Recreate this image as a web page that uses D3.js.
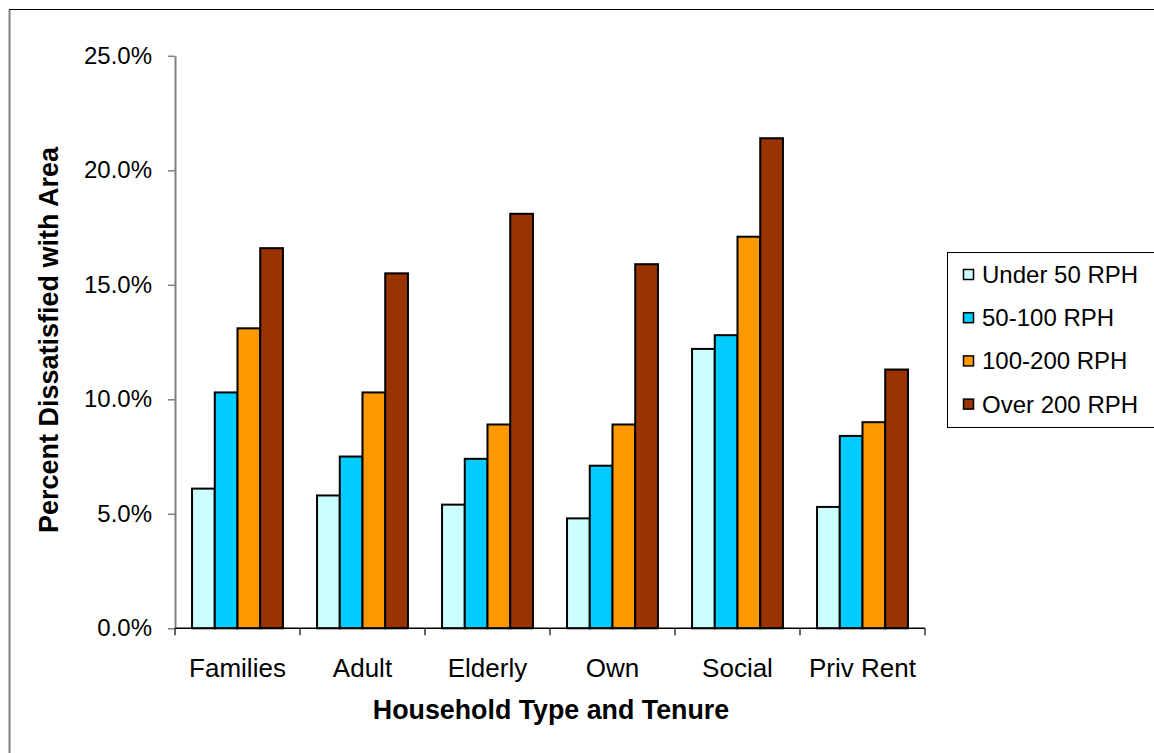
<!DOCTYPE html>
<html>
<head>
<meta charset="utf-8">
<script src="https://cdn.jsdelivr.net/npm/d3@7"></script>
<style>
  html, body { margin: 0; padding: 0; background: #fff; }
  svg { display: block; font-family: "Liberation Sans", Arial, sans-serif; }
</style>
</head>
<body>
<svg id="chart" width="1154" height="753"></svg>
<script>
// Household groups along the x axis
const categories = ["Families", "Adult", "Elderly", "Own", "Social", "Priv Rent"];
// Density bands (rooms per hectare)
const seriesNames = ["Under 50 RPH", "50-100 RPH", "100-200 RPH", "Over 200 RPH"];
const seriesColors = ["#CCFFFF", "#00CCFF", "#FF9900", "#993300"];
// Percent dissatisfied with area, one array per band
const under50 = [6.1, 5.8, 5.4, 4.8, 12.2, 5.3];
const from50to100 = [10.3, 7.5, 7.4, 7.1, 12.8, 8.4];
const from100to200 = [13.1, 10.3, 8.9, 8.9, 17.1, 9.0];
const over200 = [16.6, 15.5, 18.1, 15.9, 21.4, 11.3];
const yTicks = [0, 5, 10, 15, 20, 25];

const seriesValues = [under50, from50to100, from100to200, over200];

const svg = d3.select("#chart");
const W = 1154, H = 753;

// Outer frame of the chart area
svg.append("rect").attr("x", 9.5).attr("y", 9.5).attr("width", W + 20).attr("height", H + 20)
  .attr("fill", "#fff").attr("stroke", "#000").attr("stroke-width", 1);
svg.append("line").attr("x1", 9.5).attr("x2", 9.5).attr("y1", 10).attr("y2", H)
  .attr("stroke", "#808080").attr("stroke-width", 2);

const plot = { left: 175, right: 925, top: 55.8, bottom: 628.3 };

const x0 = d3.scaleBand().domain(categories).range([plot.left, plot.right]).paddingInner(0).paddingOuter(0);
// Each group holds four bars plus a gap of 1.5 bar widths
const barW = x0.bandwidth() / 5.5;
const x1 = d3.scaleBand().domain(seriesNames).range([0, barW * 4]).padding(0);
const y = d3.scaleLinear().domain([0, 25]).range([plot.bottom, plot.top]);

// Bars
const groups = svg.append("g").selectAll("g")
  .data(categories)
  .join("g")
  .attr("transform", d => `translate(${x0(d) + barW * 0.75},0)`);

groups.selectAll("rect")
  .data((d, i) => seriesNames.map((s, j) => ({ s, j, v: seriesValues[j][i] })))
  .join("rect")
  .attr("x", d => x1(d.s))
  .attr("y", d => y(d.v))
  .attr("width", x1.bandwidth())
  .attr("height", d => y(0) - y(d.v))
  .attr("fill", d => seriesColors[d.j])
  .attr("stroke", "#000")
  .attr("stroke-width", 2);

// Y axis
const yAxis = svg.append("g")
  .attr("transform", `translate(${plot.left},0)`)
  .call(d3.axisLeft(y).tickValues(yTicks).tickSize(7).tickSizeOuter(0).tickPadding(16)
    .tickFormat(d => d.toFixed(1) + "%"));
yAxis.select(".domain").attr("stroke", "#808080").attr("stroke-width", 2);
yAxis.selectAll(".tick line").attr("stroke", "#808080").attr("stroke-width", 1.5);
yAxis.selectAll(".tick text").attr("font-size", 24).attr("fill", "#000")
  .attr("font-family", "Liberation Sans, Arial, sans-serif");

// X axis with ticks on group boundaries
const xAxis = svg.append("g").attr("transform", `translate(0,${plot.bottom})`);
xAxis.append("line").attr("x1", plot.left).attr("x2", plot.right)
  .attr("stroke", "#000").attr("stroke-width", 1.5);
const boundaries = categories.map(c => x0(c)).concat([plot.right]);
xAxis.selectAll("line.tk").data(boundaries).join("line").attr("class", "tk")
  .attr("x1", d => d).attr("x2", d => d).attr("y1", 0).attr("y2", 7)
  .attr("stroke", "#333").attr("stroke-width", 1.5);
xAxis.selectAll("text").data(categories).join("text")
  .attr("x", d => x0(d) + x0.bandwidth() / 2)
  .attr("y", 48.5)
  .attr("text-anchor", "middle")
  .attr("font-size", 26)
  .text(d => d);

// Axis titles
svg.append("text")
  .attr("x", 551).attr("y", 718.5)
  .attr("text-anchor", "middle").attr("font-size", 26.8).attr("font-weight", "bold")
  .text("Household Type and Tenure");
svg.append("text")
  .attr("transform", "translate(58,340) rotate(-90)")
  .attr("text-anchor", "middle").attr("font-size", 27).attr("font-weight", "bold")
  .text("Percent Dissatisfied with Area");

// Legend
const legend = svg.append("g");
legend.append("rect").attr("x", 947.5).attr("y", 252.5).attr("width", 220).attr("height", 175)
  .attr("fill", "#fff").attr("stroke", "#000").attr("stroke-width", 1);
const rows = legend.selectAll("g.row").data(seriesNames).join("g").attr("class", "row")
  .attr("transform", (d, i) => `translate(0,${274.5 + i * 43.2})`);
rows.append("rect").attr("x", 963.5).attr("y", -5).attr("width", 10).attr("height", 10)
  .attr("fill", (d, i) => seriesColors[i]).attr("stroke", "#000").attr("stroke-width", 1.5);
rows.append("text").attr("x", 982).attr("y", 8.5).attr("font-size", 24).text(d => d);
</script>
</body>
</html>
